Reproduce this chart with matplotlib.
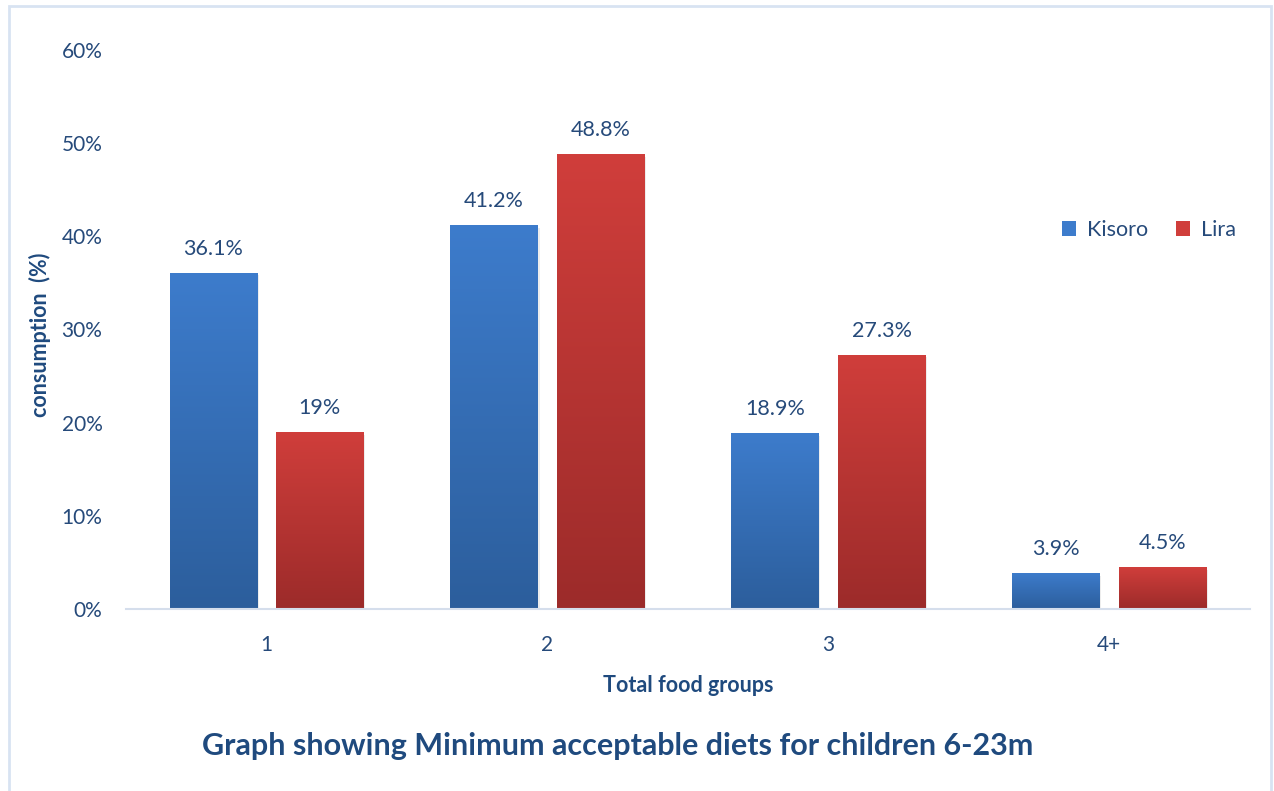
"""Grouped bar chart: minimum acceptable diets, Kisoro vs Lira."""

import numpy as np
import matplotlib

matplotlib.use("Agg")
import matplotlib.pyplot as plt
from matplotlib.patches import Rectangle

categories = ["1", "2", "3", "4+"]
kisoro = [36.1, 41.2, 18.9, 3.9]
lira = [19.0, 48.8, 27.3, 4.5]
kisoro_labels = ["36.1%", "41.2%", "18.9%", "3.9%"]
lira_labels = ["19%", "48.8%", "27.3%", "4.5%"]
y_ticks = [0, 10, 20, 30, 40, 50, 60]

TEXT = "#264a7a"
TITLE = "#1f4a7e"
BLUE_TOP, BLUE_BOT = "#3d7ccc", "#2c5e9c"
RED_TOP, RED_BOT = "#d03e3b", "#9c2b2a"

plt.rcParams["font.family"] = ["Lato", "DejaVu Sans"]

fig = plt.figure(figsize=(12.74, 7.91), dpi=100)
ax = fig.add_axes([0.0989, 0.230, 0.882, 0.707])

x = np.arange(len(categories))
w = 0.31
off = 0.19


def gradient_bars(bars, top, bot):
    c0 = np.array(matplotlib.colors.to_rgb(top))
    c1 = np.array(matplotlib.colors.to_rgb(bot))
    t = np.linspace(0, 1, 256)[:, None]
    img = (c0 * (1 - t) + c1 * t)[:, None, :]
    for b in bars:
        x0, y0 = b.get_x(), b.get_y()
        x1, y1 = x0 + b.get_width(), y0 + b.get_height()
        # soft shadow to the right of the bar
        ax.add_patch(Rectangle((x0 + 0.007, y0), b.get_width(), b.get_height() - 0.3,
                               facecolor="#000000", alpha=0.07, edgecolor="none", zorder=1))
        im = ax.imshow(img, extent=(x0, x1, y0, y1), aspect="auto", zorder=2,
                       interpolation="bilinear")
        im.set_clip_path(b)
        b.set_facecolor("none")


b1 = ax.bar(x - off, kisoro, w, color=BLUE_TOP, label="Kisoro", zorder=2, linewidth=0)
b2 = ax.bar(x + off, lira, w, color=RED_TOP, label="Lira", zorder=2, linewidth=0)
gradient_bars(b1, BLUE_TOP, BLUE_BOT)
gradient_bars(b2, RED_TOP, RED_BOT)

for xi, v, s in zip(x - off, kisoro, kisoro_labels):
    ax.text(xi, v + 1.5, s, ha="center", va="bottom", fontsize=15.5, color=TEXT, zorder=4)
for xi, v, s in zip(x + off, lira, lira_labels):
    ax.text(xi, v + 1.5, s, ha="center", va="bottom", fontsize=15.5, color=TEXT, zorder=4)

ax.set_xlim(-0.5, len(categories) - 0.5)
ax.set_ylim(0, 60)
ax.set_yticks(y_ticks)
ax.set_yticklabels([f"{t}%" for t in y_ticks])
ax.set_xticks(x)
ax.set_xticklabels(categories)
ax.tick_params(axis="both", length=0, labelsize=15, labelcolor=TEXT)
ax.tick_params(axis="y", pad=17)
ax.tick_params(axis="x", pad=19)

for side in ("top", "right", "left"):
    ax.spines[side].set_visible(False)
ax.spines["bottom"].set_color("#d5deec")
ax.spines["bottom"].set_linewidth(1.5)

ax.set_xlabel("Total food groups", fontsize=15.5, fontweight="bold", color=TITLE, labelpad=14)
ax.set_ylabel("consumption  (%)", fontsize=15.5, fontweight="bold", color=TITLE)
ax.yaxis.set_label_coords(-0.067, 0.49)

handles = [Rectangle((0, 0), 1, 1, facecolor=BLUE_TOP), Rectangle((0, 0), 1, 1, facecolor=RED_TOP)]
leg = ax.legend(handles, ["Kisoro", "Lira"], loc="upper right", bbox_to_anchor=(1.005, 0.73),
                ncol=2, frameon=False, fontsize=15.5, handlelength=0.65, handleheight=0.65,
                handletextpad=0.5, columnspacing=1.3)
for t in leg.get_texts():
    t.set_color(TEXT)

fig.text(0.485, 0.057, "Graph showing Minimum acceptable diets for children 6-23m",
         ha="center", va="center", fontsize=22, fontweight="bold", color=TITLE)

fig.patches.append(Rectangle((9 / 1274, -0.02), 1262 / 1274, 1.0 - 6 / 791 + 0.02,
                             transform=fig.transFigure, fill=False,
                             edgecolor="#d8e3f2", linewidth=2))

fig.savefig("out.png", dpi=100)
